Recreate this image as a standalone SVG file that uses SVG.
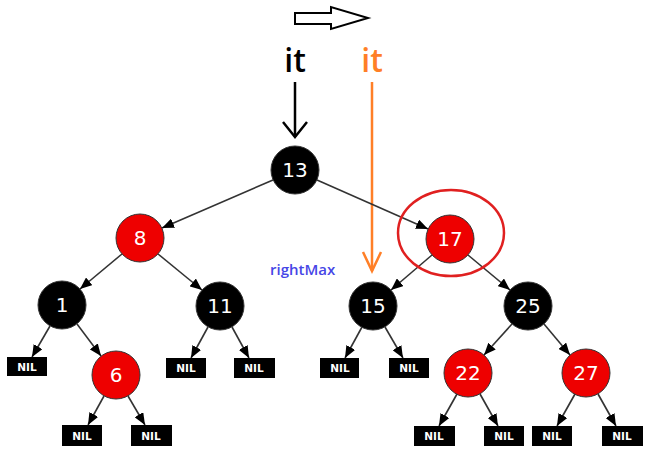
<svg xmlns="http://www.w3.org/2000/svg" width="649" height="454" viewBox="0 0 649 454">
<style>
.nb circle{fill:#000;stroke:#333;stroke-width:1}
.nr circle{fill:#ee0000;stroke:#333;stroke-width:1}
.nb text,.nr text{fill:#fff;font-family:"DejaVu Sans",sans-serif;font-size:20px;text-anchor:middle;dominant-baseline:central}
.nil rect{fill:#000}
.nil text{fill:#fff;font-family:"DejaVu Sans",sans-serif;font-size:10.5px;font-weight:bold;text-anchor:middle;dominant-baseline:central}
#edges line{stroke:#333;stroke-width:1.6;marker-end:url(#ah)}
</style>
<defs>
<marker id="ah" markerUnits="userSpaceOnUse" markerWidth="12" markerHeight="10" refX="12" refY="5" orient="auto"><path d="M0,0 L12,5 L0,10 z" fill="#000"/></marker>
</defs>
<rect width="649" height="454" fill="#fff"/>
<g id="top-arrow"><path d="M295,13 L331,13 L331,7 L368,18 L331,29 L331,24 L295,24 z" fill="#fff" stroke="#000" stroke-width="2"/></g>
<g id="it-black">
<text x="295" y="72" font-family="'Open Sans',sans-serif" font-size="32" font-weight="600" text-anchor="middle" fill="#000">it</text>
<line x1="295" y1="82" x2="295" y2="137" stroke="#000" stroke-width="2.5"/>
<path d="M283,122 L295,137 L307,122" fill="none" stroke="#000" stroke-width="2.5"/>
</g>
<g id="it-orange">
<text x="372" y="72" font-family="'Open Sans',sans-serif" font-size="32" font-weight="600" text-anchor="middle" fill="#ff7f27">it</text>
<line x1="372" y1="82" x2="372" y2="271" stroke="#ff7f27" stroke-width="2.5"/>
<path d="M363,252 L372,271 L381,252" fill="none" stroke="#ff7f27" stroke-width="2.5"/>
</g>
<g id="rightMax"><text x="270" y="275" font-family="'Open Sans',sans-serif" font-size="15" font-weight="600" fill="#4646e6">rightMax</text></g>
<g id="edges">
<line x1="273" y1="180" x2="162" y2="228"/>
<line x1="317" y1="180" x2="428" y2="229"/>
<line x1="122" y1="254" x2="80" y2="289"/>
<line x1="158" y1="254" x2="202" y2="290"/>
<line x1="50" y1="326" x2="32" y2="357"/>
<line x1="77" y1="324" x2="101" y2="356"/>
<line x1="208" y1="327" x2="191" y2="358"/>
<line x1="232" y1="327" x2="249" y2="358"/>
<line x1="104" y1="396" x2="88" y2="425"/>
<line x1="128" y1="396" x2="145" y2="425"/>
<line x1="432" y1="255" x2="391" y2="290"/>
<line x1="468" y1="255" x2="510" y2="290"/>
<line x1="362" y1="327" x2="345" y2="358"/>
<line x1="385" y1="327" x2="403" y2="358"/>
<line x1="512" y1="324" x2="484" y2="355"/>
<line x1="544" y1="324" x2="570" y2="355"/>
<line x1="457" y1="394" x2="439" y2="426"/>
<line x1="480" y1="394" x2="498" y2="426"/>
<line x1="575" y1="394" x2="557" y2="426"/>
<line x1="598" y1="394" x2="616" y2="426"/>
</g>
<g id="n13" class="nb"><circle cx="295" cy="170" r="24"/><text x="295" y="170">13</text></g>
<g id="n8" class="nr"><circle cx="140" cy="238" r="24"/><text x="140" y="238">8</text></g>
<g id="n17" class="nr"><circle cx="450" cy="239" r="24"/><text x="450" y="239">17</text></g>
<g id="n1" class="nb"><circle cx="62" cy="305" r="24"/><text x="62" y="305">1</text></g>
<g id="n11" class="nb"><circle cx="220" cy="306" r="24"/><text x="220" y="306">11</text></g>
<g id="n15" class="nb"><circle cx="373" cy="306" r="24"/><text x="373" y="306">15</text></g>
<g id="n25" class="nb"><circle cx="528" cy="306" r="24"/><text x="528" y="306">25</text></g>
<g id="n6" class="nr"><circle cx="116" cy="375" r="24"/><text x="116" y="375">6</text></g>
<g id="n22" class="nr"><circle cx="468" cy="373" r="24"/><text x="468" y="373">22</text></g>
<g id="n27" class="nr"><circle cx="586" cy="373" r="24"/><text x="586" y="373">27</text></g>
<g id="nil1" class="nil"><rect x="7" y="357" width="40" height="19"/><text x="27" y="367">NIL</text></g>
<g id="nil2" class="nil"><rect x="166" y="358" width="40" height="20"/><text x="186" y="368">NIL</text></g>
<g id="nil3" class="nil"><rect x="234" y="358" width="41" height="20"/><text x="254" y="368">NIL</text></g>
<g id="nil4" class="nil"><rect x="62" y="425" width="40" height="21"/><text x="82" y="436">NIL</text></g>
<g id="nil5" class="nil"><rect x="131" y="425" width="41" height="21"/><text x="151" y="436">NIL</text></g>
<g id="nil6" class="nil"><rect x="320" y="358" width="39" height="20"/><text x="340" y="368">NIL</text></g>
<g id="nil7" class="nil"><rect x="389" y="358" width="40" height="20"/><text x="409" y="368">NIL</text></g>
<g id="nil8" class="nil"><rect x="414" y="426" width="41" height="20"/><text x="434" y="436">NIL</text></g>
<g id="nil9" class="nil"><rect x="484" y="426" width="40" height="20"/><text x="504" y="436">NIL</text></g>
<g id="nil10" class="nil"><rect x="532" y="426" width="40" height="20"/><text x="552" y="436">NIL</text></g>
<g id="nil11" class="nil"><rect x="602" y="426" width="41" height="20"/><text x="622" y="436">NIL</text></g>
<g id="highlight"><ellipse cx="451" cy="233" rx="53" ry="43" fill="none" stroke="#e02020" stroke-width="2.5"/></g>
</svg>
